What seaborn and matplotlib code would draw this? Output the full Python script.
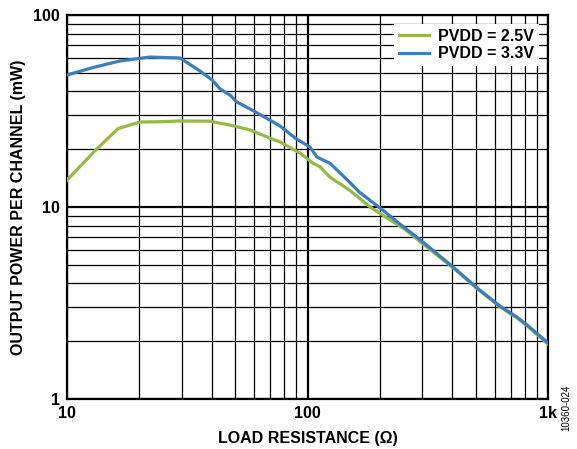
import numpy as np
import pandas as pd
import matplotlib
matplotlib.use("Agg")
import matplotlib.pyplot as plt
import seaborn as sns
from matplotlib.ticker import FixedLocator, FixedFormatter, LogLocator, NullFormatter

# ---- data ----
r_25 = [10, 13, 16.3, 17.5, 20.1, 24, 29.5, 39.3, 47.6, 57.7, 66, 76.9, 93.1, 105.4, 112.7, 124, 150, 182, 254,
        294, 403, 507, 631, 743, 818, 1000]
p_25 = [13.8, 19.5, 25.6, 26.3, 27.7, 27.8, 28.05, 28.0, 26.7, 25.2, 23.5, 21.8, 19.1, 16.9, 16.2, 14.3, 12.2, 10.0, 7.65,
        6.6, 4.82, 3.76, 3.02, 2.64, 2.41, 1.93]
r_33 = [10, 13, 16.6, 22.1, 29.5, 35, 40.1, 43.3, 47.6, 50.9, 57.7, 66, 76.9, 88.7, 102.4, 109.5, 124, 145, 165, 200, 250,
        294, 403, 507, 631, 743, 818, 1000]
p_33 = [48.7, 53.5, 57.6, 60.4, 59.7, 52.0, 45.9, 41.2, 38.3, 35.2, 32.4, 29.5, 26.4, 22.9, 20.5, 18.2, 16.9, 14.0, 11.9, 9.9, 7.9,
        6.75, 4.87, 3.79, 3.05, 2.67, 2.43, 1.96]
series_names = ["PVDD = 2.5V", "PVDD = 3.3V"]
colors = ["#95BA45", "#3A7EC2"]
x_ticks = [10, 100, 1000]
x_tick_labels = ["10", "100", "1k"]
y_ticks = [1, 10, 100]
y_tick_labels = ["1", "10", "100"]

df = pd.concat([
    pd.DataFrame({"R": r_25, "P": p_25, "series": series_names[0]}),
    pd.DataFrame({"R": r_33, "P": p_33, "series": series_names[1]}),
], ignore_index=True)

plt.rcParams['font.family'] = ['Liberation Sans', 'DejaVu Sans']
fig = plt.figure(figsize=(5.77, 4.49), dpi=100)
ax = fig.add_axes([67/577, 1-399/449, (548-67)/577, (399-15)/449])

sns.lineplot(data=df, x="R", y="P", hue="series", palette=colors, hue_order=series_names,
             linewidth=2.3, ax=ax, sort=False, estimator=None, zorder=3)
ax.set_xscale("log")
ax.set_yscale("log")
ax.set_xlim(10, 1000)
ax.set_ylim(1, 100)

ax.xaxis.set_major_locator(FixedLocator(x_ticks))
ax.xaxis.set_major_formatter(FixedFormatter(x_tick_labels))
ax.yaxis.set_major_locator(FixedLocator(y_ticks))
ax.yaxis.set_major_formatter(FixedFormatter(y_tick_labels))
ax.xaxis.set_minor_locator(LogLocator(base=10, subs=np.arange(2, 10)))
ax.yaxis.set_minor_locator(LogLocator(base=10, subs=np.arange(2, 10)))
ax.xaxis.set_minor_formatter(NullFormatter())
ax.yaxis.set_minor_formatter(NullFormatter())
ax.tick_params(which="both", length=0)
ax.tick_params(axis="x", pad=5)
ax.tick_params(axis="y", pad=5)
for lab in ax.get_xticklabels() + ax.get_yticklabels():
    lab.set_fontweight("bold")
    lab.set_fontsize(11.5)

ax.grid(which="major", color="black", linewidth=1.6)
ax.grid(which="minor", color="black", linewidth=0.9)
ax.set_axisbelow(True)
for s in ax.spines.values():
    s.set_linewidth(1.6)
    s.set_color("black")

ax.set_xlabel("LOAD RESISTANCE (Ω)", fontsize=11.5, fontweight="bold", labelpad=7)
ax.set_ylabel("OUTPUT POWER PER CHANNEL (mW)", fontsize=11.5, fontweight="bold", labelpad=5)

leg = ax.legend(loc="upper right", frameon=True, fancybox=False, edgecolor="white",
                framealpha=1, fontsize=11.5, handlelength=1.9, handletextpad=0.55,
                borderpad=0.3, labelspacing=0.15, bbox_to_anchor=(0.997, 0.997))
for t in leg.get_texts():
    t.set_fontweight("bold")
leg.get_frame().set_linewidth(0)
leg.set_zorder(5)

fig.text(566/577, 1-408/449, "10360-024", rotation=90, fontsize=7, ha="center", va="center")

fig.savefig("out.png", dpi=100)
